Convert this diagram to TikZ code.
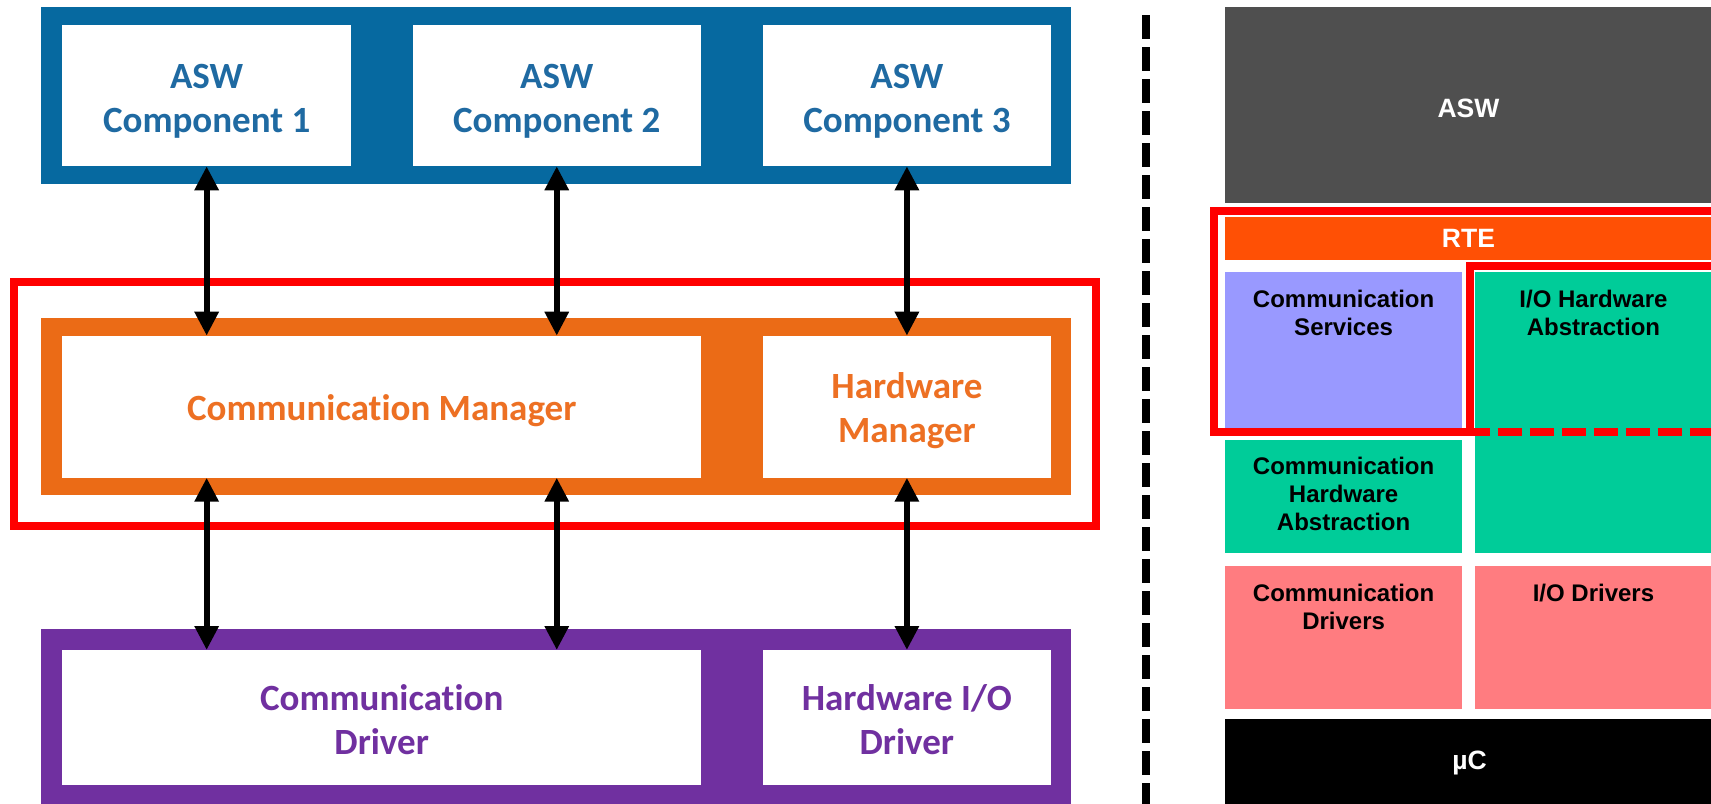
\documentclass[tikz,border=0pt]{standalone}
\usepackage{fontspec}
\setmainfont{Carlito}[Ligatures=NoCommon]
\newfontfamily\arialf{Liberation Sans}
\usetikzlibrary{fit,arrows.meta}
\definecolor{aswblue}{HTML}{0669A0}
\definecolor{aswtext}{HTML}{1F6AA2}
\definecolor{mgrorange}{HTML}{EB6B16}
\definecolor{mgrtext}{HTML}{ED7023}
\definecolor{drvpurple}{HTML}{7030A0}
\definecolor{drvtext}{HTML}{7030A0}
\definecolor{aswgrey}{HTML}{4F4F4F}
\definecolor{rteorange}{HTML}{FF5005}
\definecolor{lavender}{HTML}{9999FF}
\definecolor{absgreen}{HTML}{00CC99}
\definecolor{drvpink}{HTML}{FF7C80}
\definecolor{redline}{HTML}{FF0000}
\tikzset{
  box/.style={inner sep=0pt, outer sep=0pt, draw=none},
  lbl/.style={font=\fontsize{18.5pt}{22pt}\selectfont\bfseries, align=center, inner sep=0pt},
  rlbl/.style={font=\arialf\bfseries\fontsize{12pt}{14pt}\selectfont, align=center, anchor=north, inner sep=0pt},
  rhead/.style={font=\arialf\bfseries\fontsize{13.25pt}{15pt}\selectfont, text=white, inner sep=0pt},
  link/.style={line width=3pt, {Triangle[width=11.5pt,length=12pt]}-{Triangle[width=11.5pt,length=12pt]}},
  grpframe/.style={draw=redline, line width=4pt},
}
\begin{document}
\begin{tikzpicture}[x=0.5pt,y=-0.5pt]
\useasboundingbox (0,0) rectangle (1711,803);
\clip (0,0) rectangle (1711,803);
% ---------------- left: layers
\node[box, fill=aswblue, fit={(40.5,6.7)(1071,184.3)}] (aswlayer) {};
\node[box, fill=white, fit={(62.4,25)(350.9,166.3)}] (asw1) {};
\node[box, fill=white, fit={(412.5,25)(701,166.3)}] (asw2) {};
\node[box, fill=white, fit={(762.6,25)(1051.2,166.3)}] (asw3) {};
\node[lbl, text=aswtext] (asw1t) at ([yshift=-3pt]asw1.center) {ASW\\Component 1};
\node[lbl, text=aswtext] (asw2t) at ([yshift=-3pt]asw2.center) {ASW\\Component 2};
\node[lbl, text=aswtext] (asw3t) at ([yshift=-3pt]asw3.center) {ASW\\Component 3};

\node[box, fill=mgrorange, fit={(40.5,318.3)(1071,495.3)}] (mgrlayer) {};
\node[box, fill=white, fit={(62.4,335.7)(701,477.7)}] (cm) {};
\node[box, fill=white, fit={(762.6,335.7)(1051.2,477.7)}] (hm) {};
\node[lbl, text=mgrtext] (cmt) at ([yshift=-2pt]cm.center) {Communication Manager};
\node[lbl, text=mgrtext] (hmt) at ([yshift=-2pt]hm.center) {Hardware\\Manager};

\node[box, fill=drvpurple, fit={(40.5,629)(1071,810)}] (drvlayer) {};
\node[box, fill=white, fit={(62.4,650)(701,785)}] (cd) {};
\node[box, fill=white, fit={(762.6,650)(1051.2,785)}] (hd) {};
\node[lbl, text=drvtext] (cdt) at ([yshift=-1pt]cd.center) {Communication\\Driver};
\node[lbl, text=drvtext] (hdt) at ([yshift=-1pt]hd.center) {Hardware I/O\\Driver};

\node[box, grpframe, fit={(14,282)(1095.7,525.7)}] (grp) {};

\draw[link] (asw1.south) -- (asw1.south |- cm.north);
\draw[link] (asw2.south) -- (asw2.south |- cm.north);
\draw[link] (asw3.south) -- (asw3.south |- hm.north);
\draw[link] (asw1.south |- cm.south) -- (asw1.south |- cd.north);
\draw[link] (asw2.south |- cm.south) -- (asw2.south |- cd.north);
\draw[link] (hm.south) -- (hm.south |- hd.north);

% ---------------- separator
\coordinate (septop) at (1146.3,15);
\coordinate (sepbot) at (1146.3,810);
\draw[line width=4pt, dash pattern=on 12pt off 4pt] (septop) -- (sepbot);

% ---------------- right: AUTOSAR stack
\node[box, fill=aswgrey, fit={(1224.8,7.3)(1712,203.3)}] (rasw) {};
\node[box, fill=rteorange, fit={(1224.8,217.3)(1712,260)}] (rte) {};
\node[box, fill=lavender, fit={(1224.8,272)(1462.4,428.3)}] (cs) {};
\node[box, fill=absgreen, fit={(1474.9,272)(1712,552.8)}] (ioha) {};
\node[box, fill=absgreen, fit={(1224.8,440)(1462.4,553.3)}] (cha) {};
\node[box, fill=drvpink, fit={(1224.8,565.7)(1462.4,708.6)}] (cdrv) {};
\node[box, fill=drvpink, fit={(1474.9,565.7)(1712,708.6)}] (iodrv) {};
\node[box, fill=black, fit={(1224.8,719.3)(1712,810)}] (uc) {};

\node[rhead] (raswt) at (1468.4,108) {ASW};
\node[rhead] (rtet) at (1468.4,238.7) {RTE};
\node[rhead] (uct) at (1469.5,763) {µC};

\node[rlbl] (cst) at ([yshift=-9pt]cs.north) {Communication\\Services};
\node[rlbl] (iohat) at ([yshift=-9pt]ioha.north) {I/O Hardware\\Abstraction};
\node[rlbl] (chat) at ([yshift=-8.3pt]cha.north) {Communication\\Hardware\\Abstraction};
\node[rlbl] (cdrvt) at ([yshift=-8.8pt]cdrv.north) {Communication\\Drivers};
\node[rlbl] (iodrvt) at ([yshift=-9.2pt]iodrv.north) {I/O Drivers};

% red frames on the right
\draw[grpframe, line join=miter] (1730,210.5) -- (1213.8,210.5) -- (1213.8,432.3) -- (1469.5,432.3) -- (1469.5,265.5) -- (1730,265.5);
\draw[redline, line width=4pt, dash pattern=on 12pt off 4pt] (1465.5,432.3) -- (1730,432.3);
\end{tikzpicture}
\end{document}
